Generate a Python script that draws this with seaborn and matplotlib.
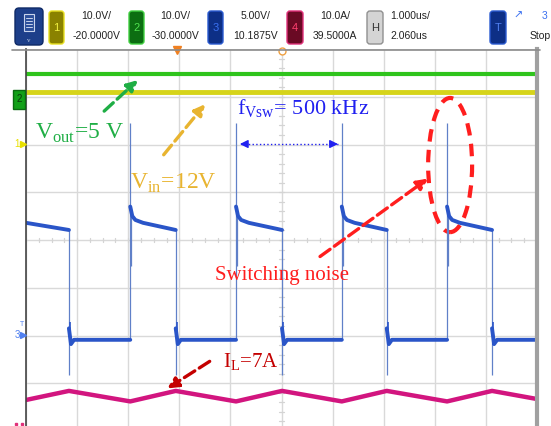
import numpy as np
import pandas as pd
import seaborn as sns
import matplotlib.pyplot as plt
from matplotlib.patches import Ellipse, FancyBboxPatch, Rectangle
from matplotlib.lines import Line2D

# time in us (1 us/div), amplitude in screen divisions
fall_t = [0.84, 2.93, 5.01, 7.06, 9.12]
rise_t = [2.04, 4.11, 6.18, 8.24]
high_first = [0.36, 0.21]
high_dt = [0.0, 0.04, 0.1, 0.25]
high_v = [0.7, 0.5, 0.42, 0.36]
high_end = 0.21
low_level = -2.09
low_dt = [0.0, 0.04, 0.1]
low_v = [-1.85, -2.18, -2.09]
rise_peak = 2.45
rise_ring = -0.55
fall_dip = -2.83
fall_ring = -1.72

il_t = [0, 0.84, 2.04, 2.93, 4.11, 5.01, 6.18, 7.06, 8.24, 9.12, 10]
il_v = [-3.35, -3.16, -3.38, -3.16, -3.38, -3.16, -3.38, -3.16, -3.38, -3.16, -3.33]

vout_t = [0, 10]
vout_v = [3.48, 3.48]
vin_t = [0, 10]
vin_v = [3.10, 3.10]

sns.set_style("white")
plt.rcParams['font.family'] = ['Liberation Serif', 'DejaVu Sans']
plt.rcParams['mathtext.fontset'] = 'custom'
plt.rcParams['mathtext.rm'] = 'Liberation Serif'

W, H = 551, 426
fig = plt.figure(figsize=(5.51, 4.26), dpi=100)
ax = fig.add_axes([26 / W, 0, 511 / W, (H - 49) / H])
ax.set_xlim(0, 10)
ax.set_ylim(-3.895, 4.0)
ax.set_xticks(range(0, 11))
ax.set_yticks(range(-3, 5))
ax.grid(True, color='#d9d9d9', lw=1)
ax.tick_params(length=0, labelbottom=False, labelleft=False)
for s in ['top', 'bottom']:
    ax.spines[s].set_visible(False)
ax.spines['left'].set_color('#444444')
ax.spines['left'].set_linewidth(1.2)
ax.spines['right'].set_color('#a0a0a0')
ax.spines['right'].set_linewidth(3)

# small ticks on the centre lines
for k in np.arange(0, 10.01, 0.25):
    ax.plot([k, k], [-0.05, 0.05], color='#d4d4d4', lw=0.9)
for k in np.arange(-3.8, 4.0, 0.2):
    ax.plot([4.95, 5.05], [k, k], color='#d4d4d4', lw=0.9)

# switching node: thin edges
ax.vlines(fall_t, fall_dip, high_end, color='#6080c8', lw=0.9)
ax.vlines([t + 0.02 for t in fall_t], fall_ring, -2.2, color='#2a55c8', lw=1.2)
ax.vlines(rise_t, low_level, rise_peak, color='#6080c8', lw=0.9)
ax.vlines([t + 0.015 for t in rise_t], rise_ring, 0.5, color='#6080c8', lw=0.9)

# switching node: thick plateaus
rows = [(0, high_first[0], 0), (fall_t[0], high_first[1], 0)]
seg = 0
for i, tf in enumerate(fall_t):
    seg += 1
    tr = rise_t[i] if i < len(rise_t) else 10.0
    rows += [(tf + dt, v, seg) for dt, v in zip(low_dt, low_v)] + [(tr, low_level, seg)]
    if i < len(rise_t):
        seg += 1
        rows += [(tr + dt, v, seg) for dt, v in zip(high_dt, high_v)]
        rows += [(fall_t[i + 1], high_end, seg)]
sw = pd.DataFrame(rows, columns=['t', 'v', 'seg'])
sns.lineplot(data=sw, x='t', y='v', units='seg', estimator=None, sort=False,
             color='#2a55c8', lw=2.8, ax=ax)

sns.lineplot(x=vout_t, y=vout_v, color='#2fc41c', lw=3, ax=ax)
sns.lineplot(x=vin_t, y=vin_v, color='#d6d41a', lw=3.5, ax=ax)
sns.lineplot(x=il_t, y=il_v, color='#d2157f', lw=3.2, ax=ax)
ax.set_xlabel('')
ax.set_ylabel('')

# annotations
ax.text(0.18, 2.12, r'V$_{\mathrm{out}}$=5 V', color='#1fae45', fontsize=17, va='baseline')
ax.annotate('', xy=(2.23, 3.39), xytext=(1.49, 2.66),
            arrowprops=dict(arrowstyle='-|>', ls='--', lw=2.4, color='#1fae45', mutation_scale=16))
ax.text(2.04, 1.07, r'V$_{\mathrm{in}}$=12V', color='#e8b430', fontsize=17, va='baseline')
ax.annotate('', xy=(3.54, 2.89), xytext=(2.66, 1.74),
            arrowprops=dict(arrowstyle='-|>', ls='--', lw=2.4, color='#e8b430', mutation_scale=16))
ax.text(4.13, 2.62, r'f$_{\mathrm{Vsw}}$= 500 kHz', color='#2020f0', fontsize=16, va='baseline')
ax.plot([4.2, 6.1], [2.01, 2.01], color='#2020f0', lw=1, ls=':')
ax.annotate('', xy=(4.13, 2.01), xytext=(4.4, 2.01),
            arrowprops=dict(arrowstyle='-|>', lw=1, color='#2020f0', mutation_scale=12))
ax.annotate('', xy=(6.16, 2.01), xytext=(5.9, 2.01),
            arrowprops=dict(arrowstyle='-|>', lw=1, color='#2020f0', mutation_scale=12))

ax.add_patch(Ellipse((8.30, 1.57), 0.86, 2.81, fill=False, ec='#ff1e1e', lw=3, ls=(0, (3, 2))))
ax.annotate('', xy=(7.91, 1.32), xytext=(5.71, -0.38),
            arrowprops=dict(arrowstyle='-|>', ls='--', lw=2.4, color='#ff1e1e', mutation_scale=16))
ax.text(3.70, -0.84, 'Switching noise', color='#ff1e1e', fontsize=15, va='baseline')

ax.text(3.86, -2.66, r'I$_{\mathrm{L}}$=7A', color='#c40000', fontsize=15, va='baseline')
ax.annotate('', xy=(2.72, -3.14), xytext=(3.64, -2.51),
            arrowprops=dict(arrowstyle='-|>', ls='--', lw=2.4, color='#c40000', mutation_scale=16))

# trigger markers at the top edge
ax.plot([2.96], [3.97], marker='v', color='#f08020', ms=6, clip_on=False)
ax.plot([5.0], [3.95], marker='o', mfc='white', mec='#f0a040', ms=5, clip_on=False)

# toolbar and left markers drawn in pixel space
ov = fig.add_axes([0, 0, 1, 1], facecolor='none')
ov.set_xlim(0, W)
ov.set_ylim(H, 0)
ov.axis('off')
ov.add_line(Line2D([12, 540], [50, 50], color='#8c8c8c', lw=1.2))

def box(x0, x1, fc, ec, label, tc):
    ov.add_patch(FancyBboxPatch((x0, 11), x1 - x0, 33, boxstyle='round,pad=0,rounding_size=3',
                                fc=fc, ec=ec, lw=1))
    ov.text((x0 + x1) / 2, 28, label, color=tc, fontsize=8, ha='center', va='center',
            family='Liberation Sans')

ov.add_patch(FancyBboxPatch((15, 8), 28, 37, boxstyle='round,pad=0,rounding_size=4',
                            fc='#1d3f8a', ec='#0f2a66', lw=1))
ov.add_patch(Rectangle((24, 14), 10, 17, fc='#2c4f9a', ec='#c8d4ec', lw=0.8))
for yy in [18, 21, 24, 27]:
    ov.add_line(Line2D([26, 32], [yy, yy], color='#c8d4ec', lw=0.7))
ov.text(29, 40, 'v', color='#c8d4ec', fontsize=5, ha='center', va='center')

box(49, 64, '#8a8200', '#e8e020', '1', '#f0f040')
box(129, 144, '#0c6e12', '#40d040', '2', '#50e050')
box(208, 223, '#0d2f86', '#2a5ad0', '3', '#3a70f0')
box(287, 303, '#6a0a24', '#e0307a', '4', '#ff4070')
box(367, 383, '#d4d4d4', '#909090', 'H', '#333333')
box(490, 506, '#0d2f86', '#2a5ad0', 'T', '#5080f0')

tb = dict(fontsize=7.5, color='#222222', family='Liberation Sans', va='center')
for xc, a, b in [(96, '10.0V/', '-20.0000V'), (175, '10.0V/', '-30.0000V'),
                 (256, '5.00V/', '10.1875V'), (335, '10.0A/', '39.5000A')]:
    ov.text(xc, 16, a, ha='center', **tb)
    ov.text(xc, 36, b, ha='center', **tb)
ov.text(390, 16, '1.000us/', ha='left', **tb)
ov.text(390, 36, '2.060us', ha='left', **tb)
ov.text(518, 16, '\u2197', ha='center', fontsize=8, color='#3a70f0', va='center', family='DejaVu Sans')
ov.text(545, 16, '3', ha='center', fontsize=7.5, color='#3a70f0', va='center', family='Liberation Sans')
ov.text(530, 36, 'Stop', ha='left', **tb)

# channel markers on the left
ov.add_patch(Rectangle((13, 90), 12, 19, fc='#12a018', ec='#0a6a10', lw=1))
ov.text(19, 99, '2', color='#0a3a0a', fontsize=7, ha='center', va='center', family='Liberation Sans')
ov.text(17, 144, '1', color='#e8e000', fontsize=7, ha='center', va='center', family='Liberation Sans')
ov.plot([23], [144], marker='>', color='#e8e000', ms=4)
ov.text(17, 335, '3', color='#5080f0', fontsize=7, ha='center', va='center', family='Liberation Sans')
ov.text(22, 325, 'T', color='#5080f0', fontsize=5, ha='center', va='center', family='Liberation Sans')
ov.plot([23], [335], marker='>', color='#5080f0', ms=4)
ov.plot([16, 22], [424, 424], ls='none', marker='s', color='#e0307a', ms=1.5)

fig.savefig('out.png', dpi=100)
